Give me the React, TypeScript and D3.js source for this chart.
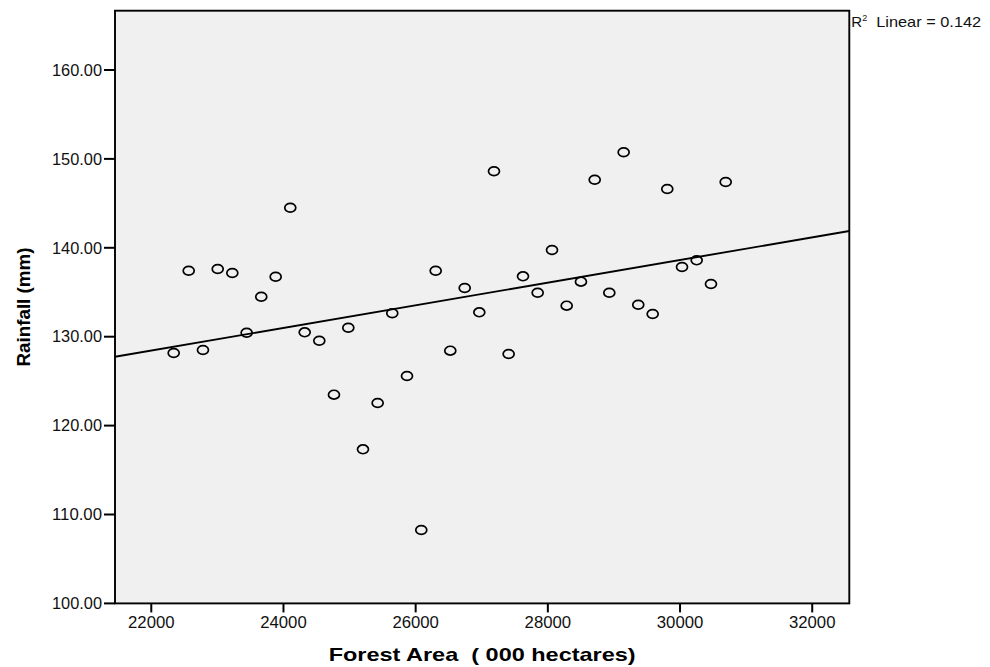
import * as d3 from "d3";

// Forest area (000 hectares) for each observation
const forestArea = [
    22339, 22566, 22782, 23005, 23226, 23443, 23664, 23882, 24103, 24321,
    24542, 24764, 24981, 25203, 25425, 25646, 25869, 26085, 26303, 26524,
    26742, 26963, 27185, 27407, 27624, 27846, 28063, 28285, 28501, 28709,
    28930, 29147, 29368, 29586, 29807, 30030, 30252, 30468, 30691
];

// Rainfall (mm) matching the forest area values above
const rainfall = [
    128.17, 137.42, 128.5, 137.61, 137.17, 130.45, 134.5, 136.75, 144.51, 130.49,
    129.55, 123.48, 131.01, 117.33, 122.54, 132.63, 125.58, 108.26, 137.42, 128.43,
    135.48, 132.74, 148.61, 128.05, 136.79, 134.95, 139.75, 133.49, 136.19, 147.66,
    134.95, 150.74, 133.6, 132.55, 146.61, 137.84, 138.59, 135.93, 147.4
];

const xTicks = [22000, 24000, 26000, 28000, 30000, 32000];
const yTicks = [100, 110, 120, 130, 140, 150, 160];
const rSquaredLabel = "0.142";

const width = 990;
const height = 667;
const margin = { top: 10.7, right: 140.7, bottom: 63.6, left: 115 };

export default function App() {
    const x = d3.scaleLinear()
        .domain([21451, 32561])
        .range([margin.left, width - margin.right]);
    const y = d3.scaleLinear()
        .domain([100, 166.67])
        .range([height - margin.bottom, margin.top]);

    // least squares fit line across the whole x range
    const mx = d3.mean(forestArea) as number;
    const my = d3.mean(rainfall) as number;
    const sxy = d3.sum(forestArea, (v, i) => (v - mx) * (rainfall[i] - my));
    const sxx = d3.sum(forestArea, v => (v - mx) * (v - mx));
    const slope = sxy / sxx;
    const intercept = my - slope * mx;
    const [x0, x1] = x.domain();
    const fit = d3.line<number>()
        .x(d => x(d))
        .y(d => y(intercept + slope * d));

    const left = x.range()[0];
    const right = x.range()[1];
    const top = y.range()[1];
    const bottom = y.range()[0];
    const font = "Arial, 'Liberation Sans', sans-serif";

    return (
        <div style={{ position: "absolute", left: 0, top: 0 }}>
            <svg width={width} height={height} style={{ display: "block", background: "#fff" }}>
                <rect x={left} y={top} width={right - left} height={bottom - top} fill="#f0f0f0" />

                <path d={fit([x0, x1]) || ""} fill="none" stroke="#000" strokeWidth={1.9} />

                {forestArea.map((v, i) => (
                    <ellipse key={i} cx={x(v)} cy={y(rainfall[i])} rx={5.5} ry={4.4}
                        fill="none" stroke="#000" strokeWidth={1.7} />
                ))}

                <rect x={left} y={top} width={right - left} height={bottom - top}
                    fill="none" stroke="#000" strokeWidth={1.9} />

                {yTicks.map(t => (
                    <g key={t}>
                        <line x1={left - 11} x2={left} y1={y(t)} y2={y(t)} stroke="#000" strokeWidth={2} />
                        <text x={left - 13} y={y(t)} dy="0.36em" textAnchor="end"
                            fontFamily={font} fontSize={16} fill="#111"
                            textLength={50} lengthAdjust="spacingAndGlyphs">{t.toFixed(2)}</text>
                    </g>
                ))}

                {xTicks.map(t => (
                    <g key={t}>
                        <line x1={x(t)} x2={x(t)} y1={bottom} y2={bottom + 9} stroke="#000" strokeWidth={2} />
                        <text x={x(t)} y={bottom + 25} textAnchor="middle"
                            fontFamily={font} fontSize={16} fill="#111"
                            textLength={46.5} lengthAdjust="spacingAndGlyphs">{t}</text>
                    </g>
                ))}

                <text x={(left + right) / 2} y={661} textAnchor="middle"
                    fontFamily={font} fontSize={19} fontWeight="bold" fill="#000"
                    textLength={307} lengthAdjust="spacingAndGlyphs"
                    style={{ whiteSpace: "pre" }}>Forest Area  ( 000 hectares)</text>

                <text transform={`translate(30, ${(top + bottom) / 2}) rotate(-90)`} textAnchor="middle"
                    fontFamily={font} fontSize={18} fontWeight="bold" fill="#000"
                    textLength={119} lengthAdjust="spacingAndGlyphs">Rainfall (mm)</text>

                <text x={right + 2} y={27} fontFamily={font} fontSize={15} fill="#111"
                    style={{ whiteSpace: "pre" }}>
                    R<tspan fontSize={9} dy={-6}>2</tspan><tspan dy={6} textLength={114}
                        lengthAdjust="spacingAndGlyphs">  Linear = {rSquaredLabel}</tspan>
                </text>
            </svg>
        </div>
    );
}
